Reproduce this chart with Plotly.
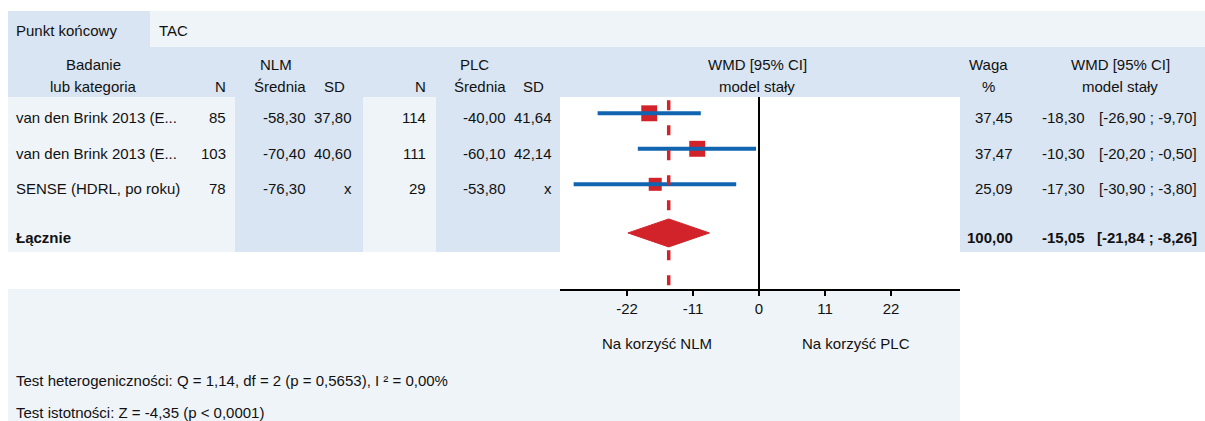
import math
import plotly.graph_objects as go

W, H = 1205, 421

# ---- data -------------------------------------------------------------
studies = ["van den Brink 2013 (E...", "van den Brink 2013 (E...", "SENSE (HDRL, po roku)"]
n_nlm = [85, 103, 78]
mean_nlm = [-58.30, -70.40, -76.30]
sd_nlm = [37.80, 40.60, None]
n_plc = [114, 111, 29]
mean_plc = [-40.00, -60.10, -53.80]
sd_plc = [41.64, 42.14, None]
weight = [37.45, 37.47, 25.09]
wmd = [-18.30, -10.30, -17.30]
ci_low = [-26.90, -20.20, -30.90]
ci_high = [-9.70, -0.50, -3.80]

pooled_label = "Łącznie"
pooled_weight = 100.00
pooled_wmd = -15.05
pooled_low = -21.84
pooled_high = -8.26

x_ticks = [-22, -11, 0, 11, 22]
endpoint_label, endpoint_value = "Punkt końcowy", "TAC"
favours_left, favours_right = "Na korzyść NLM", "Na korzyść PLC"
het_text = "Test heterogeniczności: Q = 1,14, df = 2 (p = 0,5653), I ² = 0,00%"
sig_text = "Test istotności: Z = -4,35 (p < 0,0001)"

# ---- style -------------------------------------------------------------
RED = "#d2232a"
BLUE = "#1064b0"
HEAD = "#d9e5f2"
LIGHT = "#eff4f9"
FONT = "Liberation Sans, Arial, sans-serif"
FS = 15
TXT = "#111111"

rows = [1, 2, 3]
pooled_row = 4.37
row_top, row_bottom = 0.541, 5.949


def fmt(v):
    return "x" if v is None else f"{v:.2f}".replace(".", ",")


def ci_fmt(lo, hi):
    return f"[{fmt(lo)} ; {fmt(hi)}]"


def px(x):
    return x / W


def py(y):
    return 1 - y / H


fig = go.Figure()

# study squares (drawn first so the CI lines sit on top)
fig.add_trace(go.Scatter(
    x=wmd, y=rows, mode="markers",
    marker=dict(symbol="square", color=RED, line_width=0, opacity=1,
                size=[2.6 * math.sqrt(w) for w in weight]),
    hoverinfo="skip", showlegend=False))

# confidence intervals
ci_x, ci_y = [], []
for lo, hi, r in zip(ci_low, ci_high, rows):
    ci_x += [lo, hi, None]
    ci_y += [r, r, None]
fig.add_trace(go.Scatter(
    x=ci_x, y=ci_y, mode="lines", line=dict(color=BLUE, width=4),
    hoverinfo="skip", showlegend=False))

# pooled diamond
half = 0.394
fig.add_trace(go.Scatter(
    x=[pooled_low, pooled_wmd, pooled_high, pooled_wmd, pooled_low],
    y=[pooled_row, pooled_row - half, pooled_row, pooled_row + half, pooled_row],
    mode="lines", fill="toself", fillcolor=RED, line=dict(color=RED, width=1),
    hoverinfo="skip", showlegend=False))

shapes = []


def rect(x0, y0, x1, y1, color):
    shapes.append(dict(type="rect", xref="paper", yref="paper",
                       x0=px(x0), x1=px(x1), y0=py(y1), y1=py(y0),
                       fillcolor=color, line_width=0, layer="below"))


# table backgrounds
rect(8, 11, 150, 47, HEAD)
rect(150, 11, W, 47, LIGHT)
rect(8, 47, W, 97, HEAD)
rect(8, 97, 235, 252, LIGHT)
rect(235, 97, 363, 252, HEAD)
rect(363, 97, 436, 252, LIGHT)
rect(436, 97, 560, 252, HEAD)
rect(960, 97, W, 252, HEAD)
rect(8, 289, 960, H, LIGHT)

# pooled estimate reference line
shapes.append(dict(type="line", xref="x", yref="y domain",
                   x0=pooled_wmd, x1=pooled_wmd, y0=0.02, y1=1,
                   line=dict(color=RED, width=3.5, dash="10px,15px"),
                   layer="above"))

annotations = []


def text(x, y, s, anchor="left", bold=False, yref="paper", yshift=0):
    if bold:
        s = f"<b>{s}</b>"
    annotations.append(dict(
        x=px(x), y=(py(y) if yref == "paper" else y), xref="paper", yref=yref,
        text=s, showarrow=False, xanchor=anchor, yanchor="middle",
        yshift=yshift, font=dict(family=FONT, size=FS, color=TXT)))


# top band
text(14, 30, endpoint_label)
text(157, 30, endpoint_value)

# column headers
h1, h2 = 64, 86
text(93, h1, "Badanie", "center")
text(93, h2, "lub kategoria", "center")
text(228, h2, "N", "right")
text(258, h1, "NLM")
text(308, h2, "Średnia", "right")
text(347, h2, "SD", "right")
text(428, h2, "N", "right")
text(458, h1, "PLC")
text(508, h2, "Średnia", "right")
text(546, h2, "SD", "right")
text(757, h1, "WMD [95% CI]", "center")
text(757, h2, "model stały", "center")
text(988, h1, "Waga", "center")
text(988, h2, "%", "center")
text(1120, h1, "WMD [95% CI]", "center")
text(1120, h2, "model stały", "center")

# study rows
ys = -4.5
for i, r in enumerate(rows):
    text(14, r, studies[i], yref="y", yshift=ys)
    text(228, r, str(n_nlm[i]), "right", yref="y", yshift=ys)
    text(308, r, fmt(mean_nlm[i]), "right", yref="y", yshift=ys)
    text(354, r, fmt(sd_nlm[i]), "right", yref="y", yshift=ys)
    text(428, r, str(n_plc[i]), "right", yref="y", yshift=ys)
    text(508, r, fmt(mean_plc[i]), "right", yref="y", yshift=ys)
    text(554, r, fmt(sd_plc[i]), "right", yref="y", yshift=ys)
    text(1015, r, fmt(weight[i]), "right", yref="y", yshift=ys)
    text(1087, r, fmt(wmd[i]), "right", yref="y", yshift=ys)
    text(1199, r, ci_fmt(ci_low[i], ci_high[i]), "right", yref="y", yshift=ys)

# pooled row
text(14, pooled_row, pooled_label, bold=True, yref="y", yshift=ys)
text(1015, pooled_row, fmt(pooled_weight), "right", bold=True, yref="y", yshift=ys)
text(1087, pooled_row, fmt(pooled_wmd), "right", bold=True, yref="y", yshift=ys)
text(1199, pooled_row, ci_fmt(pooled_low, pooled_high), "right", bold=True,
     yref="y", yshift=ys)

# favours labels and test statistics
text(657, 343, favours_left, "center")
text(856, 343, favours_right, "center")
text(14, 380, het_text)
text(14, 412, sig_text)

fig.update_layout(
    width=W, height=H,
    margin=dict(l=0, r=0, t=0, b=0),
    paper_bgcolor="white", plot_bgcolor="white",
    font=dict(family=FONT, size=FS, color=TXT),
    shapes=shapes, annotations=annotations,
    showlegend=False,
    xaxis=dict(
        domain=[px(560), px(960)], range=[-33.17, 33.5],
        tickvals=x_ticks, ticktext=[str(t) for t in x_ticks],
        showgrid=False, zeroline=True, zerolinecolor="black", zerolinewidth=2,
        showline=True, linecolor="black", linewidth=2,
        ticks="outside", ticklen=5, tickwidth=2, tickcolor="black",
        tickfont=dict(family=FONT, size=FS, color=TXT), fixedrange=True),
    yaxis=dict(
        domain=[py(289), py(97)], range=[row_bottom, row_top],
        visible=False, showgrid=False, zeroline=False, fixedrange=True),
)

fig.write_html("out.html")
